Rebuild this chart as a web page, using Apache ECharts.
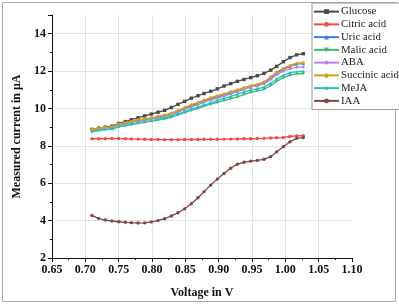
<!DOCTYPE html>
<html><head><meta charset="utf-8">
<script src="https://cdn.jsdelivr.net/npm/echarts@6/dist/echarts.min.js"></script>
<style>html,body{margin:0;padding:0;background:#fff}#c{width:399px;height:305px}</style>
</head><body><div id="c"></div>
<script>
const voltage = [0.710,0.720,0.730,0.740,0.750,0.760,0.769,0.779,0.789,0.799,0.809,0.819,0.829,0.839,0.849,0.859,0.869,0.878,0.888,0.898,0.908,0.918,0.928,0.938,0.948,0.958,0.968,0.978,0.987,0.997,1.007,1.017,1.027];
const glucose = [8.88,8.95,9.0,9.05,9.2,9.3,9.4,9.5,9.6,9.7,9.8,9.9,10.05,10.22,10.38,10.55,10.68,10.8,10.92,11.05,11.2,11.33,11.45,11.55,11.65,11.75,11.88,12.05,12.25,12.5,12.72,12.87,12.93];
const citric = [8.38,8.38,8.38,8.39,8.39,8.38,8.37,8.36,8.35,8.34,8.34,8.33,8.33,8.33,8.34,8.34,8.34,8.35,8.35,8.35,8.36,8.36,8.37,8.38,8.38,8.39,8.40,8.42,8.43,8.45,8.50,8.53,8.54];
const uric = [8.85,8.93,8.98,9.0,9.15,9.22,9.3,9.37,9.42,9.47,9.55,9.62,9.72,9.86,10.0,10.15,10.28,10.4,10.52,10.62,10.72,10.83,10.93,11.05,11.15,11.22,11.35,11.62,11.88,12.1,12.25,12.37,12.4];
const malic = [8.8,8.85,8.88,8.9,9.02,9.08,9.14,9.2,9.26,9.32,9.38,9.45,9.53,9.65,9.78,9.9,10.0,10.12,10.22,10.32,10.42,10.52,10.62,10.74,10.86,10.94,11.02,11.22,11.45,11.65,11.78,11.85,11.87];
const aba = [8.83,8.9,8.95,8.98,9.12,9.18,9.26,9.33,9.38,9.43,9.5,9.57,9.66,9.8,9.94,10.08,10.2,10.32,10.44,10.54,10.66,10.78,10.9,11.04,11.15,11.22,11.32,11.55,11.8,12.0,12.12,12.2,12.22];
const succinic = [8.88,8.95,9.0,9.02,9.18,9.25,9.32,9.4,9.45,9.5,9.58,9.65,9.75,9.9,10.05,10.2,10.32,10.45,10.58,10.68,10.78,10.9,11.0,11.12,11.22,11.3,11.42,11.7,11.95,12.15,12.3,12.42,12.45];
const meja = [8.75,8.82,8.87,8.9,9.03,9.1,9.17,9.24,9.3,9.35,9.42,9.49,9.58,9.7,9.83,9.96,10.07,10.18,10.3,10.42,10.54,10.65,10.76,10.88,10.98,11.05,11.14,11.35,11.58,11.77,11.9,11.97,11.99];
const iaa = [4.27,4.12,4.03,3.98,3.94,3.91,3.89,3.87,3.88,3.93,4.0,4.1,4.25,4.42,4.63,4.9,5.22,5.55,5.9,6.22,6.52,6.8,7.02,7.12,7.18,7.22,7.28,7.42,7.68,7.95,8.22,8.4,8.44];

const names = ['Glucose','Citric acid','Uric acid','Malic acid','ABA','Succinic acid','MeJA','IAA'];
const values = [glucose,citric,uric,malic,aba,succinic,meja,iaa];
const colors = ['#4a4a4a','#f04a4a','#3b7ddd','#3cb878','#b983ed','#d4a017','#1fc4c4','#7e4646'];
const symbols = ['rect','circle','triangle','path://M0,0L10,0L5,9Z','diamond','path://M5,0L10,4L8,10L2,10L0,4Z','path://M5,0L6.5,3.5L10,4L7.5,6.5L8,10L5,8L2,10L2.5,6.5L0,4L3.5,3.5Z','circle'];

const serif = 'Liberation Serif, Times New Roman, serif';
const chart = echarts.init(document.getElementById('c'), null, {renderer:'canvas'});
chart.setOption({
  animation:false,
  backgroundColor:'#fff',
  color: colors,
  graphic:[{type:'rect',shape:{x:2.5,y:2.5,width:393,height:299},style:{fill:'none',stroke:'#aaa',lineWidth:1},z:-1}],
  grid:{left:52,right:47,top:15,bottom:47},
  legend:{
    orient:'vertical', left:312, top:3, width:83,
    padding:[3,3,3,1], itemGap:1.5, itemWidth:25, itemHeight:6,
    backgroundColor:'#fff', borderColor:'#999', borderWidth:1,
    textStyle:{fontFamily:serif,fontSize:10.8,color:'#222',lineHeight:11.25,padding:[0,0,0,-3]},
    data: names
  },
  xAxis:{
    type:'value', min:0.65, max:1.10, interval:0.05,
    name:'Voltage in V', nameLocation:'middle', nameGap:29,
    nameTextStyle:{fontFamily:serif,fontSize:12,fontWeight:'bold',color:'#111'},
    axisLine:{show:true,lineStyle:{color:'#111',width:1}},
    axisTick:{show:true,length:4,lineStyle:{color:'#111'}},
    minorTick:{show:true,splitNumber:2,length:2,lineStyle:{color:'#111'}},
    axisLabel:{fontFamily:serif,fontSize:12,fontWeight:'bold',color:'#111',margin:6,formatter:v=>v.toFixed(2)},
    splitLine:{show:true,lineStyle:{color:['rgba(0,0,0,0)','#e2e2e2','#e2e2e2','#e2e2e2','#e2e2e2','#e2e2e2','#e2e2e2','#e2e2e2','#e2e2e2','rgba(0,0,0,0)'],width:1}}
  },
  yAxis:{
    type:'value', min:2, max:15, interval:2,
    name:'Measured current in μA', nameLocation:'middle', nameGap:23,
    nameTextStyle:{fontFamily:serif,fontSize:12,fontWeight:'bold',color:'#111'},
    axisLine:{show:true,lineStyle:{color:'#111',width:1}},
    axisTick:{show:true,length:4,lineStyle:{color:'#111'}},
    minorTick:{show:true,splitNumber:2,length:2,lineStyle:{color:'#111'}},
    axisLabel:{fontFamily:serif,fontSize:12,fontWeight:'bold',color:'#111',margin:6,showMaxLabel:false},
    splitLine:{show:true,lineStyle:{color:['rgba(0,0,0,0)','#e2e2e2','#e2e2e2','#e2e2e2','#e2e2e2','#e2e2e2','#e2e2e2','rgba(0,0,0,0)'],width:1}}
  },
  series: names.map((n,k)=>({
    name:n, type:'line',
    data: voltage.map((x,i)=>[x, values[k][i]]),
    symbol: symbols[k], symbolSize: 3.4, showAllSymbol:true,
    lineStyle:{width:1.3,color:colors[k]},
    itemStyle:{color:colors[k]},
    z: 2+k
  }))
});
</script></body></html>
